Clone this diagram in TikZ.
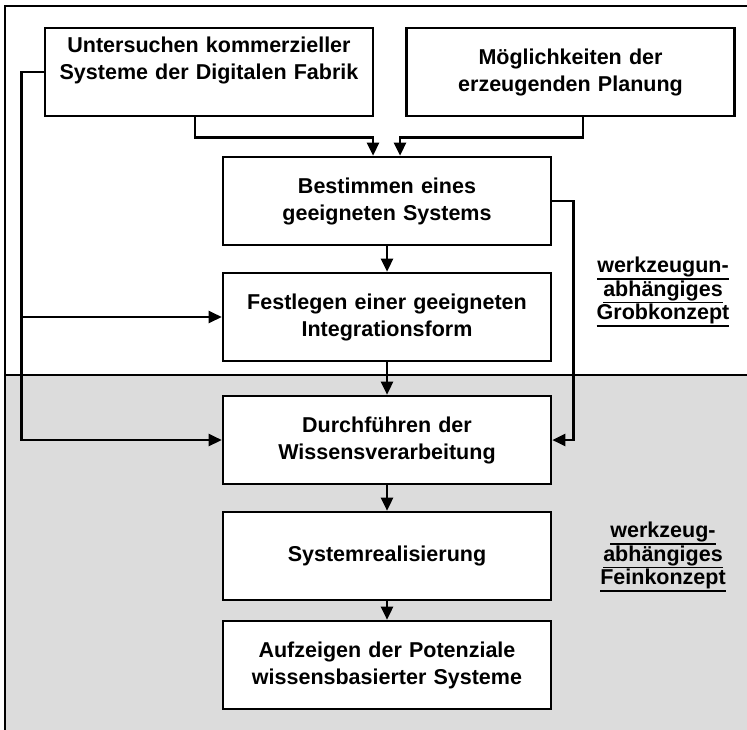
\documentclass[tikz,border=0pt]{standalone}
\usepackage{fontspec}
\setmainfont{Liberation Sans}
\usetikzlibrary{positioning,arrows.meta}
\definecolor{bandgray}{RGB}{220,220,220}
\newcommand{\ulabel}[1]{\vtop{\hbox{#1}\kern0.6pt\hrule height 1.6pt}}

\begin{document}
\begin{tikzpicture}[x=1pt,y=-1pt,
    box/.style={draw, fill=white, line width=2.6pt, minimum width=328pt, minimum height=88pt,
        text width=316pt, inner sep=6pt, align=center, font=\bfseries\fontsize{21.5}{27}\selectfont},
    arr/.style={-{Triangle[length=13pt,width=12pt]}, line width=2.6pt},
    lbl/.style={align=center, font=\bfseries\fontsize{21.5}{23.5}\selectfont}]
    \useasboundingbox (0,0) rectangle (747,730);

    % Frame and grey band
    \fill[bandgray] (5,375) rectangle (747,730);
    \draw[line width=2.6pt] (747,6) -- (5,6) -- (5,730);
    \draw[line width=2.6pt] (5,375) -- (747,375);

    % Input studies
    \node[box] (unters) at (209,72) {Untersuchen kommerzieller\\Systeme der Digitalen Fabrik\\\mbox{}};
    \node[box] (moegl) at (570.5,72) {Möglichkeiten der\\erzeugenden Planung};

    % Main chain
    \node[box] (bestimmen) at (387,201) {Bestimmen eines\\geeigneten Systems};
    \node[box] (festlegen) at (387,317) {Festlegen einer geeigneten\\Integrationsform};
    \node[box] (durch) at (387,440) {Durchführen der\\Wissensverarbeitung};
    \node[box] (realis) at (387,556) {Systemrealisierung};
    \node[box] (aufz) at (387,665) {Aufzeigen der Potenziale\\wissensbasierter Systeme};

    % Phase labels
    \node[lbl] (grob) at (663,292) {\ulabel{werkzeugun-}\\\ulabel{abhängiges}\\\ulabel{Grobkonzept}};
    \node[lbl] (fein) at (663,557) {\ulabel{werkzeug-}\\\ulabel{abhängiges}\\\ulabel{Feinkonzept}};

    % Arrows
    \draw[arr] ([xshift=-14pt]unters.south) -- ++(0,20) -| ([xshift=-14pt]bestimmen.north);
    \draw[arr] ([xshift=12.5pt]moegl.south) -- ++(0,20) -| ([xshift=13pt]bestimmen.north);
    \draw[arr] (bestimmen) -- (festlegen);
    \draw[arr] (festlegen) -- (durch);
    \draw[arr] (durch) -- (realis);
    \draw[arr] (realis) -- (aufz);

    \coordinate (lft) at ([xshift=-22pt]unters.west);
    \draw[arr] (unters.west) -- (lft) |- (durch.west);
    \draw[arr] (lft |- festlegen.west) -- (festlegen.west);
    \draw[arr] (bestimmen.east) -- ++(21,0) |- (durch.east);
\end{tikzpicture}
\end{document}
